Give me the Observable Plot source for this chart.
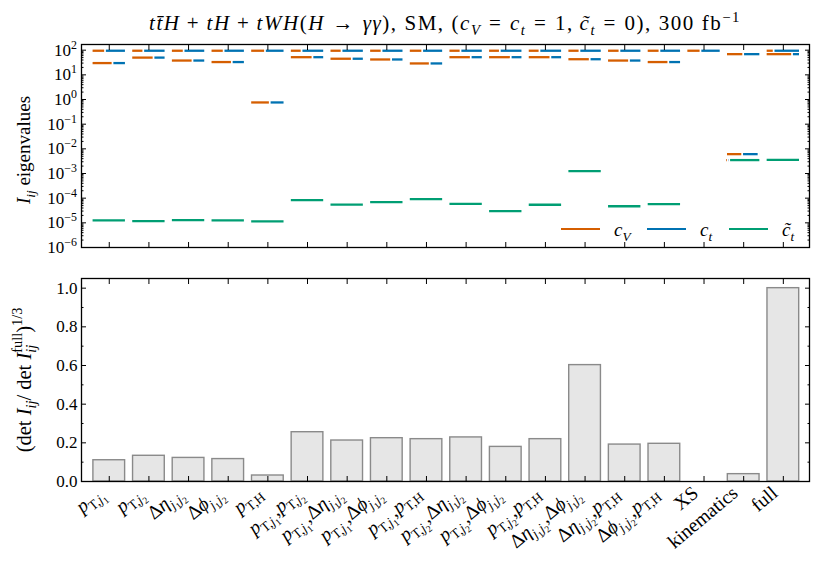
<!DOCTYPE html>
<html><head><meta charset="utf-8">
<script src="https://cdn.jsdelivr.net/npm/d3@7"></script>
<script src="https://cdn.jsdelivr.net/npm/@observablehq/plot@0.6"></script>
<style>
body{margin:0;background:#fff;}
#fig{position:relative;width:830px;height:581px;font-family:"Liberation Serif",serif;color:#000;overflow:hidden}
#fig svg{position:absolute;left:0;overflow:visible}
#fig svg text,#fig svg tspan{font-family:"Liberation Serif",serif}
#title{position:absolute;left:81px;width:728px;top:11px;text-align:center;font-size:21px;white-space:nowrap}
#title span.in{display:inline-block}
#title sub,#title sup,.lg sub{font-size:70%;line-height:0}
#title .op{margin:0 0.3em}
#title .rel{margin:0 0.36em}
.lgline{position:absolute;height:2px}
.lg{position:absolute;font-size:19px;font-style:italic;white-space:nowrap}
</style></head><body><div id="fig"><div id="title"></div></div>
<script>
// ---------------- data ----------------
const categories = ["pT,j1","pT,j2","Δη j1j2","Δφ j1j2","pT,H","pT,j1,pT,j2","pT,j1,Δη j1j2","pT,j1,Δφ j1j2","pT,j1,pT,H","pT,j2,Δη j1j2","pT,j2,Δφ j1j2","pT,j2,pT,H","Δη j1j2,Δφ j1j2","Δη j1j2,pT,H","Δφ j1j2,pT,H","XS","kinematics","full"];
const tickLabels = [
  "p_{\\r{T},j_1}","p_{\\r{T},j_2}","\\r{Δ}η_{j_1j_2}","\\r{Δ}ϕ_{j_1j_2}","p_{\\r{T},\\r{H}}",
  "p_{\\r{T},j_1},p_{\\r{T},j_2}","p_{\\r{T},j_1},\\r{Δ}η_{j_1j_2}","p_{\\r{T},j_1},\\r{Δ}ϕ_{j_1j_2}","p_{\\r{T},j_1},p_{\\r{T},\\r{H}}",
  "p_{\\r{T},j_2},\\r{Δ}η_{j_1j_2}","p_{\\r{T},j_2},\\r{Δ}ϕ_{j_1j_2}","p_{\\r{T},j_2},p_{\\r{T},\\r{H}}",
  "\\r{Δ}η_{j_1j_2},\\r{Δ}ϕ_{j_1j_2}","\\r{Δ}η_{j_1j_2},p_{\\r{T},\\r{H}}","\\r{Δ}ϕ_{j_1j_2},p_{\\r{T},\\r{H}}",
  "\\r{XS}","\\r{kinematics}","\\r{full}"];
const params = ["cV","ct","ctt"];
const paramColors = ["#d55e00","#0072b2","#009e73"];
const paramLabels = ["c<sub>V</sub>","c<sub>t</sub>","c̃<sub>t</sub>"];

// eigenvalues (largest, middle, smallest) and squared eigenvector components [cV, ct, c~t]
const eig1 = [95,95,95,95,95,95,95,95,95,95,95,95,95,95,95,95,69,95];
const share1 = [[0.39,0.61,0],[0.35,0.65,0],[0.37,0.63,0],[0.38,0.62,0],[0.43,0.57,0],[0.34,0.66,0],[0.35,0.65,0],[0.36,0.64,0],[0.39,0.61,0],[0.35,0.65,0],[0.34,0.66,0],[0.34,0.66,0],[0.35,0.65,0],[0.36,0.64,0],[0.37,0.63,0],[0.41,0.59,0],[0.5,0.5,0],[0.23,0.77,0]];
const eig2 = [30,50,38,33,0.76,52,45,42,29,52,52,52,43,38,33,null,6.1e-3,69];
const share2 = [[0.61,0.39,0],[0.65,0.35,0],[0.63,0.37,0],[0.62,0.38,0],[0.57,0.43,0],[0.66,0.34,0],[0.65,0.35,0],[0.64,0.36,0],[0.61,0.39,0],[0.65,0.35,0],[0.66,0.34,0],[0.66,0.34,0],[0.65,0.35,0],[0.64,0.36,0],[0.63,0.37,0],[0,0,0],[0.47,0.48,0.05],[0.77,0.23,0]];
const eig3 = [1.25e-5,1.17e-5,1.29e-5,1.25e-5,1.14e-5,8.3e-5,5.5e-5,6.9e-5,9.1e-5,5.9e-5,2.97e-5,5.4e-5,1.24e-3,4.7e-5,5.7e-5,null,3.5e-3,3.6e-3];
const share3 = [[0,0,1],[0,0,1],[0,0,1],[0,0,1],[0,0,1],[0,0,1],[0,0,1],[0,0,1],[0,0,1],[0,0,1],[0,0,1],[0,0,1],[0,0,1],[0,0,1],[0,0,1],[0,0,0],[0.03,0.06,0.91],[0,0,1]];

// (det I_ij / det I_full)^(1/3)
const detRatio = [0.110,0.133,0.122,0.116,0.031,0.255,0.212,0.224,0.219,0.228,0.179,0.219,0.602,0.191,0.195,0,0.038,1.0];

const logTicks = [1e-6,1e-5,1e-4,1e-3,1e-2,1e-1,1,10,100];
const logTickLabels = ["10^{−6}","10^{−5}","10^{−4}","10^{−3}","10^{−2}","10^{−1}","10^{0}","10^{1}","10^{2}"];
const linTicks = [0,0.2,0.4,0.6,0.8,1.0];
const linTickLabels = ["0.0","0.2","0.4","0.6","0.8","1.0"];
const linMinor = [0.1,0.3,0.5,0.7,0.9];

// ---------------- helpers ----------------
const idx = categories.map((c, i) => i);
const xDomain = [-0.7, 17.66];
const logMinor = [];
for (let e = -6; e <= 2; e++) for (let m = 2; m <= 9; m++) { const v = m * 10 ** e; if (v < 170) logMinor.push(v); }

const half = 0.43, gap = 0.022;
const segs = [];
function addLevel(vals, shares) {
  vals.forEach((v, i) => {
    if (v == null) return;
    let x = i - half;
    shares[i].forEach((s, k) => {
      if (s <= 0) return;
      const w = 2 * half * s;
      segs.push({v, param: params[k], x1: x + gap, x2: x + w - gap});
      x += w;
    });
  });
}
addLevel(eig1, share1); addLevel(eig2, share2); addLevel(eig3, share3);
const bars = detRatio.map((v, i) => ({i, v, name: categories[i]}));

function parseMath(str, base) {
  const runs = [];
  function rec(s, scale, shift) {
    let i = 0, buf = null, lastGroup = null;
    const push = (ch, up) => {
      const italic = !up && /[A-Za-zα-ωϕ]/.test(ch);
      if (buf && runs[runs.length - 1] === buf && buf.italic === italic) buf.text += ch;
      else { buf = {text: ch, scale, shift, italic}; runs.push(buf); }
    };
    const grab = (j) => { let d = 1, k = j + 1; while (d) { if (s[k] === "{") d++; else if (s[k] === "}") d--; k++; } return [s.slice(j + 1, k - 1), k]; };
    while (i < s.length) {
      const c = s[i];
      if (c === "_" || c === "^") {
        i++;
        let g;
        if (s[i] === "{") { const r = grab(i); g = r[0]; i = r[1]; } else { g = s[i]; i++; }
        const start = runs.length;
        const nsh = c === "_" ? shift + base * scale * 0.24 : shift - base * scale * 0.42;
        buf = null;
        rec(g, scale * 0.7, nsh);
        buf = null;
        if (lastGroup && lastGroup.end === start && lastGroup.type !== c) runs[start].stackOn = [lastGroup.start, lastGroup.end];
        lastGroup = {type: c, start, end: runs.length};
        continue;
      }
      if (c === "\\" && s[i + 1] === "r" && s[i + 2] === "{") {
        const r = grab(i + 2);
        for (const ch of r[0]) push(ch, true);
        i = r[1]; continue;
      }
      push(c, false); i++;
    }
  }
  rec(str, 1, 0);
  return runs;
}
function renderMath(textSel, str, base) {
  const runs = parseMath(str, base);
  let cur = 0; const nodes = [];
  runs.forEach(r => {
    const t = textSel.append("tspan").text(r.text)
      .attr("font-size", base * r.scale).attr("font-style", r.italic ? "italic" : "normal")
      .attr("dy", r.shift - cur);
    cur = r.shift; nodes.push(t.node());
  });
  runs.forEach((r, k) => {
    if (r.stackOn) { let w = 0; for (let m = r.stackOn[0]; m < r.stackOn[1]; m++) w += nodes[m].getComputedTextLength(); d3.select(nodes[k]).attr("dx", -w); }
  });
}
const blank = () => "";
function inwardY(ticks, size) {
  return [
    Plot.axisY({ticks, anchor: "left", tickSize: size, dx: size, tickFormat: blank, label: null, stroke: "black"}),
    Plot.axisY({ticks, anchor: "right", tickSize: size, dx: -size, tickFormat: blank, label: null, stroke: "black"})
  ];
}
function inwardX(size) {
  return [
    Plot.axisX({ticks: idx, anchor: "bottom", tickSize: size, dy: -size, tickFormat: blank, label: null, stroke: "black"}),
    Plot.axisX({ticks: idx, anchor: "top", tickSize: size, dy: size, tickFormat: blank, label: null, stroke: "black"})
  ];
}
const style = {fontFamily: "'Liberation Serif',serif", fontSize: "17px", color: "black", background: "transparent", overflow: "visible"};

// ---------------- top panel ----------------
const topPlot = Plot.plot({
  width: 830, height: 250,
  marginLeft: 81, marginRight: 21, marginTop: 44, marginBottom: 3,
  x: {domain: xDomain},
  y: {type: "log", domain: [1e-6, 170]},
  color: {domain: params, range: paramColors},
  style,
  marks: [
    Plot.ruleY(segs, {y: "v", x1: "x1", x2: "x2", stroke: "param", strokeWidth: 2.3}),
    ...inwardY(logTicks, 5),
    ...inwardY(logMinor, 2.5),
    ...inwardX(5),
    Plot.frame({stroke: "black", strokeWidth: 1.3})
  ]
});
topPlot.style.top = "0px";

// ---------------- bottom panel ----------------
const botPlot = Plot.plot({
  width: 830, height: 331,
  marginLeft: 81, marginRight: 21, marginTop: 28, marginBottom: 100,
  x: {domain: xDomain},
  y: {domain: [0, 1.05]},
  style,
  marks: [
    Plot.rect(bars, {x1: d => d.i - 0.4, x2: d => d.i + 0.4, y1: 0, y2: "v", fill: "#e6e6e6", stroke: "#8a8a8a", strokeWidth: 1.4}),
    ...inwardY(linTicks, 5),
    ...inwardY(linMinor, 2.5),
    ...inwardX(5),
    Plot.axisY({ticks: linTicks, anchor: "left", tickSize: 0, tickPadding: 4, label: null, tickFormat: d => linTickLabels[linTicks.indexOf(d)], fontSize: 17}),
    Plot.frame({stroke: "black", strokeWidth: 1.3})
  ]
});
botPlot.style.top = "250px";

const fig = document.getElementById("fig");
fig.appendChild(topPlot);
fig.appendChild(botPlot);

// log tick labels (math superscripts)
{
  const ys = topPlot.scale("y");
  const g = d3.select(topPlot).append("g").attr("fill", "black");
  logTicks.forEach((v, k) => {
    const t = g.append("text").attr("text-anchor", "end").attr("x", 77).attr("y", ys.apply(v) + 6);
    renderMath(t, logTickLabels[k], 17);
  });
}
// y labels
{
  const t = d3.select(topPlot).append("text").attr("text-anchor", "middle")
    .attr("transform", "translate(30,150) rotate(-90)").style("white-space", "pre").attr("fill", "black");
  renderMath(t, "I_{ij}\\r{ eigenvalues}", 19);
  const b = d3.select(botPlot).append("text").attr("text-anchor", "middle")
    .attr("transform", "translate(31,130) rotate(-90)").style("white-space", "pre").attr("fill", "black");
  renderMath(b, "(\\r{det }I_{ij}/\\r{ det }I_{ij}^{\\r{full}})^{1/3}", 20.5);
}
// x tick labels
{
  const xs = botPlot.scale("x");
  const yBase = 331 - 100;
  const g = d3.select(botPlot).append("g").attr("fill", "black").style("white-space", "pre");
  tickLabels.forEach((lab, i) => {
    const t = g.append("text").attr("text-anchor", "end")
      .attr("transform", `translate(${xs.apply(i) - 4},${yBase + 14}) rotate(-40)`);
    renderMath(t, lab, 19.5);
  });
}
// title (stretched with letter-spacing to the reference width)
{
  const el = document.getElementById("title");
  el.innerHTML =
    "<span class='in'><i>tt̄H</i><span class='op'>+</span><i>tH</i><span class='op'>+</span><i>tWH</i>(<i>H</i><span class='rel'>→</span><i>γγ</i>), SM, (<i>c<sub>V</sub></i><span class='rel'>=</span><i>c<sub>t</sub></i><span class='rel'>=</span>1,&thinsp;<i>c̃<sub>t</sub></i><span class='rel'>=</span>0), 300&nbsp;fb<sup>−1</sup></span>";
  const inner = el.querySelector(".in");
  const w = inner.getBoundingClientRect().width;
  const n = inner.textContent.length;
  inner.style.letterSpacing = Math.max(0, (595 - w) / n) + "px";
}
// legend
{
  const lineLeft = [561, 647, 729];
  params.forEach((p, k) => {
    const l = document.createElement("div");
    l.className = "lgline"; l.style.left = lineLeft[k] + "px"; l.style.top = "228px"; l.style.width = "39px"; l.style.background = paramColors[k];
    fig.appendChild(l);
    const s = document.createElement("div");
    s.className = "lg"; s.style.left = (lineLeft[k] + 53) + "px"; s.style.top = "219px"; s.innerHTML = paramLabels[k];
    fig.appendChild(s);
  });
}
</script></body></html>
